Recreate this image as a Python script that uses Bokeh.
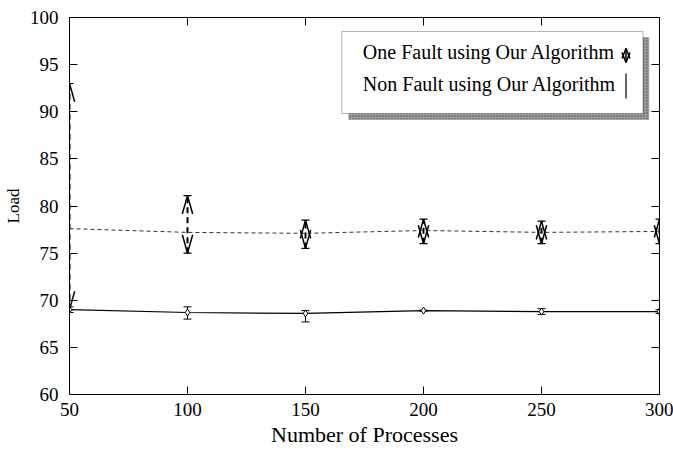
import numpy as np
from bokeh.plotting import figure
from bokeh.models import (ColumnDataSource, Whisker, TeeHead, Label, BoxAnnotation,
                          LinearAxis, FixedTicker, Range1d)
from bokeh.embed import file_html
from bokeh.resources import INLINE

# ---- data ----
procs = [50, 100, 150, 200, 250, 300]
one_fault = [77.6, 77.2, 77.1, 77.4, 77.2, 77.3]
one_fault_lo = [69.0, 75.0, 75.5, 76.0, 76.0, 76.0]
one_fault_hi = [93.0, 81.1, 78.5, 78.6, 78.4, 78.6]
non_fault = [69.0, 68.7, 68.6, 68.9, 68.8, 68.8]
non_fault_lo = [68.7, 68.0, 67.7, 68.85, 68.5, 68.6]
non_fault_hi = [69.3, 69.3, 68.9, 68.95, 69.1, 69.0]
x_ticks = [50, 100, 150, 200, 250, 300]
y_ticks = [60, 65, 70, 75, 80, 85, 90, 95, 100]
series_names = ["One Fault using Our Algorithm", "Non Fault using Our Algorithm"]

FONT = "Liberation Serif"

p = figure(width=673, height=449, output_backend="svg", toolbar_location=None,
           x_range=Range1d(50, 300), y_range=Range1d(60, 100),
           min_border_left=67, min_border_right=14, min_border_top=17, min_border_bottom=55)
p.grid.visible = False
p.outline_line_color = "black"
p.outline_line_width = 1

for ax in (p.xaxis[0], p.yaxis[0]):
    ax.major_tick_in = 8
    ax.major_tick_out = 0
    ax.minor_tick_line_color = None
    ax.axis_line_color = "black"
    ax.major_tick_line_color = "black"
    ax.major_label_text_font = FONT
    ax.major_label_text_font_size = "19px"
    ax.major_label_text_color = "black"
    ax.axis_label_text_font = FONT
    ax.axis_label_text_font_style = "normal"
    ax.axis_label_text_color = "black"

p.xaxis.ticker = FixedTicker(ticks=x_ticks)
p.yaxis.ticker = FixedTicker(ticks=y_ticks)
p.xaxis.axis_label = "Number of Processes"
p.yaxis.axis_label = "Load"
p.xaxis.axis_label_text_font_size = "22px"
p.yaxis.axis_label_text_font_size = "17px"
p.xaxis.major_label_standoff = 8
p.yaxis.major_label_standoff = 11
p.xaxis.axis_label_standoff = 3
p.yaxis.axis_label_standoff = 4

# mirrored ticks
top = LinearAxis(ticker=FixedTicker(ticks=x_ticks), major_tick_in=8, major_tick_out=0,
                 minor_tick_line_color=None, major_label_text_font_size="0px")
right = LinearAxis(ticker=FixedTicker(ticks=y_ticks), major_tick_in=8, major_tick_out=0,
                   minor_tick_line_color=None, major_label_text_font_size="0px")
p.add_layout(top, "above")
p.add_layout(right, "right")

src1 = ColumnDataSource(dict(x=procs, y=one_fault, lo=one_fault_lo, hi=one_fault_hi))
src2 = ColumnDataSource(dict(x=procs, y=non_fault, lo=non_fault_lo, hi=non_fault_hi))

# legend box with shadow (drawn beneath glyphs)
p.add_layout(BoxAnnotation(left=168.3, right=295.5, top=97.88, bottom=89.18, level="underlay",
                           fill_color="#9a9a9a", fill_alpha=1, line_color="#777777",
                           hatch_pattern=".", hatch_color="#555555", hatch_scale=3))
p.add_layout(BoxAnnotation(left=165.4, right=293.0, top=98.51, bottom=89.81, level="underlay",
                           fill_color="white", fill_alpha=1, line_color="black", line_width=1))

# lines
p.line("x", "y", source=src1, line_color="#333333", line_width=1, line_dash="4 3")
p.line("x", "y", source=src2, line_color="black", line_width=1.2)

# one-fault error bars: dashed body with small caps
p.add_layout(Whisker(base="x", lower="lo", upper="hi", source=src1,
                     line_color="black", line_width=2, line_dash="6 4",
                     upper_head=TeeHead(size=8, line_width=1.2, line_color="black"),
                     lower_head=TeeHead(size=8, line_width=1.2, line_color="black")))

# open chevron heads (style sizes in data units)
HEAD_DX, HEAD_DY = 2.2, 1.95
xs = np.array(procs, dtype=float)
hi = np.array(one_fault_hi)
lo = np.array(one_fault_lo)
chev = ColumnDataSource(dict(
    x0=np.concatenate([xs, xs, xs, xs]),
    y0=np.concatenate([hi, hi, lo, lo]),
    x1=np.concatenate([xs - HEAD_DX, xs + HEAD_DX, xs - HEAD_DX, xs + HEAD_DX]),
    y1=np.concatenate([hi - HEAD_DY, hi - HEAD_DY, lo + HEAD_DY, lo + HEAD_DY]),
))
p.segment("x0", "y0", "x1", "y1", source=chev, line_color="black", line_width=1.5)

# non-fault error bars
p.add_layout(Whisker(base="x", lower="lo", upper="hi", source=src2,
                     line_color="black", line_width=1,
                     upper_head=TeeHead(size=8, line_width=1, line_color="black"),
                     lower_head=TeeHead(size=8, line_width=1, line_color="black")))
p.scatter("x", "y", source=src2, marker="diamond", size=7, fill_color="white",
          line_color="black", line_width=1)

# legend texts
p.add_layout(Label(x=174.3, y=96.35, text=series_names[0], text_font=FONT,
                   text_font_size="20px", text_baseline="middle", text_color="black"))
p.add_layout(Label(x=174.3, y=92.95, text=series_names[1], text_font=FONT,
                   text_font_size="20px", text_baseline="middle", text_color="black"))

# legend symbols
LX, LTOP, LBOT, LDX, LDY = 285.8, 96.71, 95.23, 1.7, 1.06
p.segment(x0=[LX, LX, LX, LX, LX], y0=[LTOP, LTOP, LBOT, LBOT, LBOT],
          x1=[LX - LDX, LX + LDX, LX - LDX, LX + LDX, LX],
          y1=[LTOP - LDY, LTOP - LDY, LBOT + LDY, LBOT + LDY, LTOP],
          line_color="black", line_width=1.5)
p.segment(x0=[LX], y0=[91.4], x1=[LX], y1=[94.05], line_color="black", line_width=1.2)

open("out.html", "w").write(file_html(p, INLINE))
